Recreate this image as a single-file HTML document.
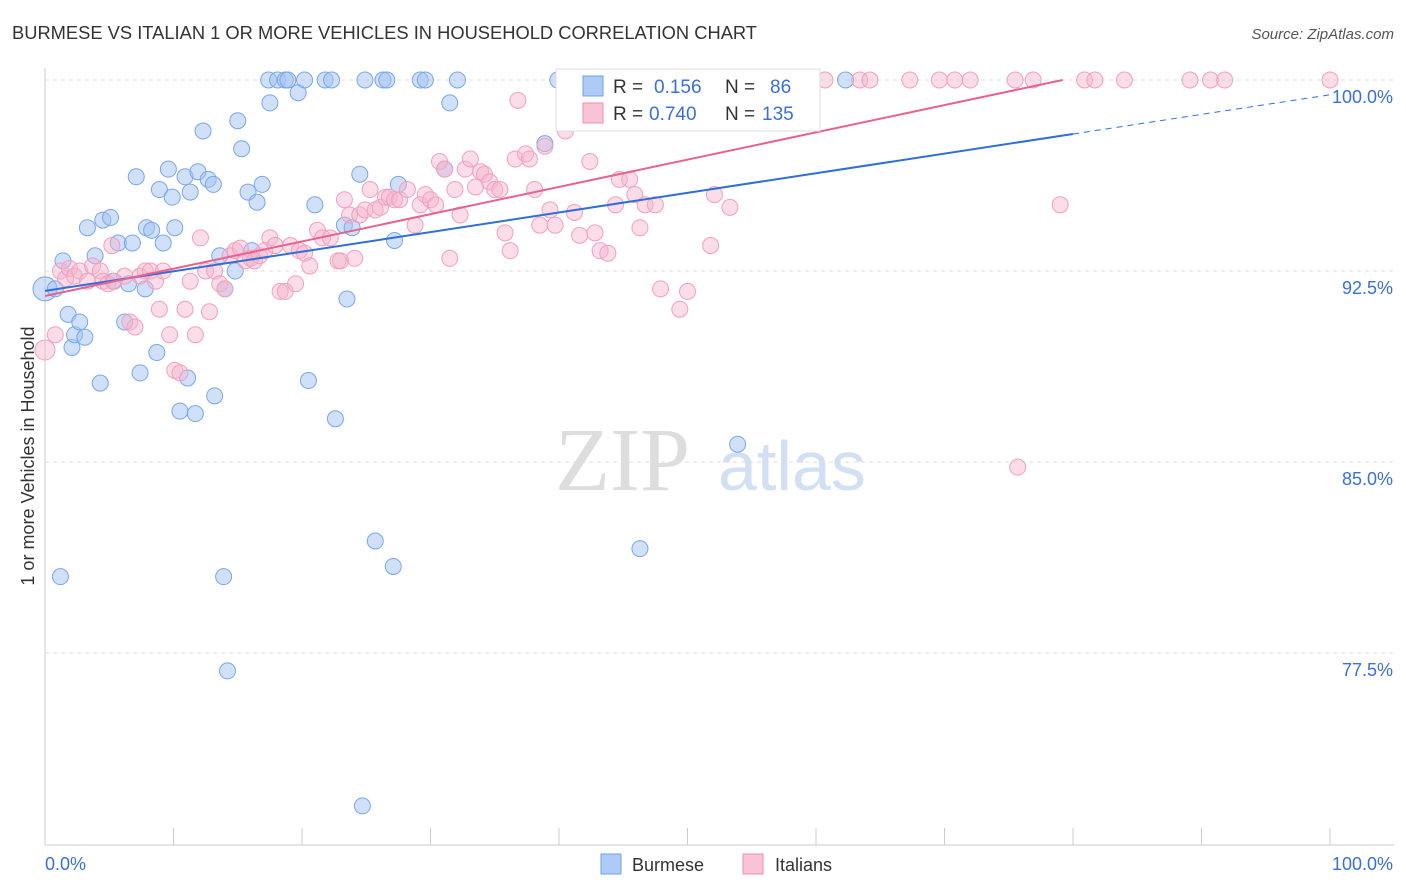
<!DOCTYPE html>
<html><head><meta charset="utf-8"><style>
body{margin:0;background:#fff;font-family:"Liberation Sans",sans-serif;}
#wrap{position:relative;width:1406px;height:892px;overflow:hidden}
</style></head><body>
<div id="wrap">
<svg id="svg" width="1406" height="892" xmlns="http://www.w3.org/2000/svg">
<text x="12" y="39" font-size="18" fill="#333" textLength="745" lengthAdjust="spacingAndGlyphs">BURMESE VS ITALIAN 1 OR MORE VEHICLES IN HOUSEHOLD CORRELATION CHART</text>
<text x="1394" y="39" font-size="15" fill="#555" font-style="italic" text-anchor="end">Source: ZipAtlas.com</text>
<text x="34" y="456" font-size="18" fill="#333" text-anchor="middle" transform="rotate(-90 34 456)">1 or more Vehicles in Household</text>
<text x="555" y="490" font-size="90" fill="#ddd" font-family="Liberation Serif,serif">ZIP</text>
<text x="718" y="490" font-size="70" fill="#d3e0f3">atlas</text>
<g id="grid"></g><g id="ticks"></g><g id="pts"></g><g id="lines"></g>
<g>
<rect x="556" y="69" width="264" height="62" fill="#fff" stroke="#ddd"/>
<rect x="583" y="76" width="20" height="20" fill="#aecbf5" stroke="#6fa0e8"/>
<rect x="583" y="103" width="20" height="20" fill="#f8c3d4" stroke="#f08cb0"/>
<text y="93" font-size="19" fill="#333"><tspan x="613">R =</tspan><tspan x="654" fill="#3b6fd4">0.156</tspan><tspan x="725">N =</tspan><tspan x="770" fill="#3b6fd4">86</tspan></text>
<text y="120" font-size="19" fill="#333"><tspan x="613">R =</tspan><tspan x="649" fill="#3b6fd4">0.740</tspan><tspan x="725">N =</tspan><tspan x="762" fill="#3b6fd4">135</tspan></text>
</g>
<g>
<rect x="601" y="854" width="20" height="20" fill="#aecbf5" stroke="#6fa0e8"/>
<text x="632" y="871" font-size="18" fill="#333">Burmese</text>
<rect x="743" y="854" width="20" height="20" fill="#f8c3d4" stroke="#f08cb0"/>
<text x="775" y="871" font-size="18" fill="#333">Italians</text>
</g>
</svg></div>
<script>
const yTicks=[100,92.5,85,77.5];
const yTickLabels=["100.0%","92.5%","85.0%","77.5%"];
const xTickLabels=["0.0%","100.0%"];
const burmeseX=[0,0.8,1.2,1.4,1.8,2.1,2.3,2.7,3.1,3.3,3.9,4.3,4.5,5.1,5.3,5.7,6.2,6.5,6.8,7.1,7.4,7.8,7.9,8.3,8.7,8.9,9.2,9.6,9.9,10.1,10.5,10.9,11.1,11.3,11.7,11.9,12.3,12.7,13.1,13.2,13.6,13.9,14.0,14.2,14.8,15.0,15.3,15.8,16.1,16.5,16.9,17.4,17.5,18.1,18.7,18.9,19.7,20.2,20.5,21.0,21.8,22.3,22.6,23.3,23.5,23.9,24.5,24.7,24.9,25.7,26.3,26.6,27.1,27.2,27.5,29.2,29.6,31.1,31.5,32.1,38.9,39.9,46.3,53.9,62.3];
const burmeseY=[91.8,91.8,80.5,92.9,90.8,89.5,90.0,90.5,89.9,94.2,93.1,88.1,94.5,94.6,92.1,93.6,90.5,92.0,93.6,96.2,88.5,91.8,94.2,94.1,89.3,95.7,93.6,96.5,95.4,94.2,87.0,96.2,88.3,95.6,86.9,96.4,98.0,96.1,95.9,87.6,93.1,80.5,91.8,76.8,92.5,98.4,97.3,95.6,93.3,95.2,95.9,100,99.1,100,100,100,99.5,100,88.2,95.1,100,100,86.7,94.3,91.4,94.2,96.3,71.5,100,81.9,100,100,80.9,93.7,95.9,100,100,96.5,99.1,100,97.5,100,81.6,85.7,100];
const italianX=[0,0.8,1.2,1.6,1.9,2.3,2.7,3.3,3.7,4.3,4.5,4.9,5.2,5.4,6.2,6.6,7.0,7.4,7.8,8.2,8.6,8.9,9.2,9.7,10.1,10.5,10.9,11.3,11.7,12.1,12.5,12.8,13.2,13.6,14.0,14.4,14.8,15.2,15.6,16.0,16.3,16.7,17.1,17.5,17.9,18.3,18.7,19.1,19.5,19.8,20.2,20.6,21.2,21.6,22.2,22.8,23.0,23.3,23.7,24.1,24.5,24.9,25.3,25.7,26.1,26.5,26.8,27.2,27.6,28.2,28.8,29.2,29.6,30.0,30.4,30.7,31.1,31.5,31.9,32.3,32.7,33.1,33.5,33.9,34.2,34.6,35.0,35.4,35.8,36.2,36.6,36.8,37.4,37.7,38.1,38.5,38.9,39.3,39.7,40.5,40.9,41.2,41.6,42.4,42.8,43.2,43.4,43.8,44.4,44.7,45.1,45.5,45.9,46.3,46.7,47.1,47.5,47.9,48.2,49.4,50.0,51.0,51.8,52.1,52.5,53.3,54.1,55.6,56.4,58.8,60.7,63.4,64.2,67.3,69.6,70.8,72.0,75.5,75.7,76.9,79.0,80.9,81.7,84.0,89.1,90.7,91.8,100];
const italianY=[89.4,90.0,92.5,92.2,92.6,92.3,92.5,92.1,92.7,92.5,92.1,92.0,93.5,92.1,92.3,90.5,90.3,92.3,92.5,92.5,92.1,91.0,92.5,90.0,88.6,88.5,91.0,92.1,90.0,93.8,92.5,90.9,92.5,92.0,91.8,93.1,93.3,93.4,92.9,93.0,92.9,93.1,93.3,93.8,93.5,91.7,91.7,93.5,92.0,93.3,93.2,92.7,94.1,93.8,93.8,92.9,92.9,95.3,94.7,93.0,94.7,94.9,95.7,94.9,95.0,95.4,95.4,95.3,95.3,95.7,94.3,95.1,95.5,95.3,95.1,96.8,96.5,93.0,95.7,94.7,96.5,96.9,95.8,96.4,96.3,96.0,95.7,95.7,94.0,93.3,96.9,99.2,97.1,96.9,95.7,94.3,97.4,94.9,94.3,98.0,99.2,94.8,93.9,96.8,94.0,93.3,100,93.2,95.1,96.1,100,96.1,95.5,94.2,95.1,100,95.1,91.8,100,91.0,91.7,100,93.5,95.5,100,95.0,100,100,100,100,100,100,100,100,100,100,100,100,84.8,100,95.1,100,100,100,100,100,100,100,100];
const burmeseTrend=[91.72,97.88];
const italianTrend=[91.52,100];
const X0=45,X1=1330,YTOP=80,PXP=25.47;
const xs=v=>X0+(X1-X0)*v/100;
const ys=v=>YTOP+(100-v)*PXP;
const NS="http://www.w3.org/2000/svg";
function mk(tag,parent,attrs){const e=document.createElementNS(NS,tag);for(const k in attrs)e.setAttribute(k,attrs[k]);document.getElementById(parent).appendChild(e);return e;}
yTicks.forEach((t,i)=>{
 const g=mk('line','grid',{x1:X0,x2:1394,y1:ys(t),y2:ys(t),stroke:'#ddd','stroke-dasharray':'4,4'});
 
 
 const l=mk('text','ticks',{x:1393,y:ys(t)+23,'font-size':18,fill:'#3b6fd4','text-anchor':'end'});
 l.textContent=yTickLabels[i];
 
 
});
const ax=mk('line','grid',{x1:X0,x2:X0,y1:68,y2:845,stroke:'#ccc'});


const bx=mk('line','grid',{x1:X0,x2:1394,y1:845,y2:845,stroke:'#ccc'});


for(let i=0;i<=10;i++){
 const t=mk('line','ticks',{x1:xs(i*10),x2:xs(i*10),y1:828,y2:845,stroke:'#ccc'});
 
 
}
[[0,'start',45],[100,'end',1393]].forEach((a,i)=>{
 const l=mk('text','ticks',{x:a[2],y:870,'font-size':18,fill:'#3b6fd4','text-anchor':a[1]});
 l.textContent=xTickLabels[i];
 
 
});
burmeseX.forEach((x,i)=>{
 const c=mk('circle','pts',{cx:xs(x),cy:ys(burmeseY[i]),r:i==0?12:8,fill:'rgba(164,194,244,0.5)',stroke:'#7aa6e8','stroke-width':1});
 
 
});
italianX.forEach((x,i)=>{
 const c=mk('circle','pts',{cx:xs(x),cy:ys(italianY[i]),r:i==0?10:8,fill:'rgba(245,180,204,0.45)',stroke:'#f2a0bd','stroke-width':1});
 
 
});
const slopeB=(burmeseTrend[1]-burmeseTrend[0])/80;
const b1=mk('line','lines',{x1:xs(0),y1:ys(burmeseTrend[0]),x2:xs(80),y2:ys(burmeseTrend[1]),stroke:'#2f6fd6','stroke-width':2});


const b2=mk('line','lines',{x1:xs(80),y1:ys(burmeseTrend[1]),x2:xs(100),y2:ys(burmeseTrend[1]+slopeB*20),stroke:'#2f6fd6','stroke-width':1,'stroke-dasharray':'6,5'});


const p1=mk('line','lines',{x1:xs(0),y1:ys(italianTrend[0]),x2:xs(79.2),y2:ys(italianTrend[1]),stroke:'#e8628f','stroke-width':2});


</script>
</body></html>
